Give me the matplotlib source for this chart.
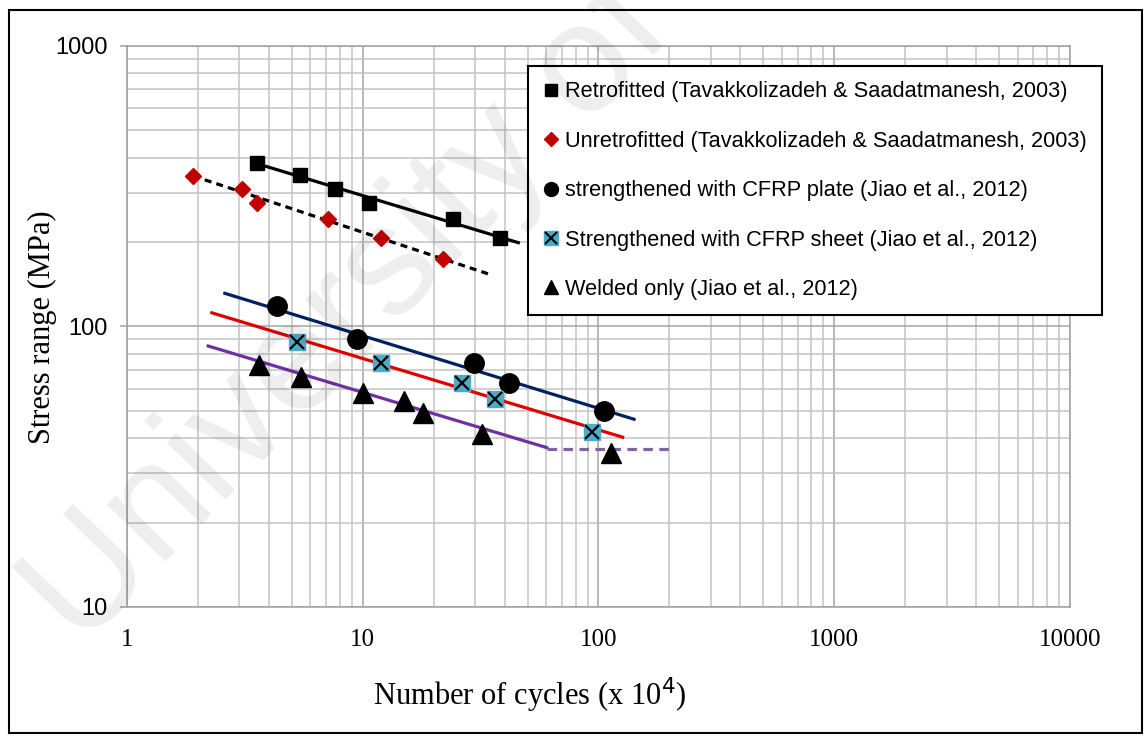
import numpy as np
import matplotlib.pyplot as plt
from matplotlib.lines import Line2D
from matplotlib.patches import Rectangle
from matplotlib.ticker import LogLocator, NullFormatter

# Data (x in 10^4 cycles, y in MPa)
retro_x = [3.55, 5.42, 7.63, 10.6, 24.2, 38.2]
retro_y = [382, 347, 309, 276, 241, 206]
unretro_x = [1.91, 3.07, 3.57, 7.14, 12.0, 22.0]
unretro_y = [344, 309, 275, 241, 207, 174]
plate_x = [4.31, 9.43, 29.7, 41.9, 105.5]
plate_y = [118, 90, 74, 63, 50]
sheet_x = [5.25, 12.0, 26.3, 36.4, 94.1]
sheet_y = [88, 74, 63, 55, 42]
welded_x = [3.63, 5.46, 10.06, 14.9, 18.1, 32.0, 112.6]
welded_y = [73, 66, 58, 54.4, 49.3, 41.4, 35.5]

# trend lines (end points)
retro_fit_x, retro_fit_y = [3.55, 45.7], [381, 199]
unretro_fit_x, unretro_fit_y = [1.91, 35.2], [344, 152.6]
plate_fit_x, plate_fit_y = [2.60, 141.5], [131.3, 46.7]
sheet_fit_x, sheet_fit_y = [2.29, 126.6], [111.9, 40.3]
welded_fit_x, welded_fit_y = [2.21, 60.3], [85.2, 37.0]
cutoff_x, cutoff_y = [60.3, 205], [36.5, 36.5]

labels = ['Retrofitted (Tavakkolizadeh & Saadatmanesh, 2003)',
          'Unretrofitted (Tavakkolizadeh & Saadatmanesh, 2003)',
          'strengthened with CFRP plate (Jiao et al., 2012)',
          'Strengthened with CFRP sheet (Jiao et al., 2012)',
          'Welded only (Jiao et al., 2012)']

red = '#C00000'
cyan = '#4BACC6'

fig = plt.figure(figsize=(11.44, 7.36), dpi=100)
ax = fig.add_axes([0.111, 0.1753, 0.8243, 0.7622])
ax.set_xscale('log')
ax.set_yscale('log')
ax.set_xlim(1, 10000)
ax.set_ylim(10, 1000)

# grid
ax.xaxis.set_minor_locator(LogLocator(base=10, subs=np.arange(2, 10)))
ax.yaxis.set_minor_locator(LogLocator(base=10, subs=np.arange(2, 10)))
ax.xaxis.set_minor_formatter(NullFormatter())
ax.yaxis.set_minor_formatter(NullFormatter())
ax.grid(which='major', color='#a6a6a6', lw=1.1)
ax.grid(which='minor', color='#c4c4c4', lw=1.1)
ax.set_axisbelow(True)
for s in ax.spines.values():
    s.set_color('#a0a0a0')
    s.set_linewidth(1.1)

ax.set_xticks([1, 10, 100, 1000, 10000])
ax.set_xticklabels(['1', '10', '100', '1000', '10000'], fontfamily='Liberation Serif', fontsize=18)
ax.set_yticks([10, 100, 1000])
ax.set_yticklabels(['10', '100', '1000'], fontfamily='Liberation Sans', fontsize=17)
ax.tick_params(axis='x', which='both', length=0, pad=16)
ax.tick_params(axis='y', which='major', length=5, width=1.1, color='#a0a0a0', pad=9)
ax.tick_params(axis='y', which='minor', length=0)

# trend lines
ax.plot(retro_fit_x, retro_fit_y, color='black', lw=2.3, zorder=2)
ax.plot(unretro_fit_x, unretro_fit_y, color='black', lw=2.3, ls=(0, (2.2, 1.6)), zorder=2)
ax.plot(plate_fit_x, plate_fit_y, color='#002060', lw=2.3, zorder=2)
ax.plot(sheet_fit_x, sheet_fit_y, color='#E00000', lw=2.3, zorder=2)
ax.plot(welded_fit_x, welded_fit_y, color='#7030A0', lw=2.3, zorder=2)
ax.plot(cutoff_x, cutoff_y, color='#8064A2', lw=2.3, ls=(0, (3, 2)), zorder=2)

# data points
ax.plot(retro_x, retro_y, 's', color='black', ms=9.5, ls='none', zorder=3)
ax.plot(unretro_x, unretro_y, 'D', color=red, ms=8, ls='none', zorder=3)
ax.plot(plate_x, plate_y, 'o', color='black', ms=14, ls='none', zorder=3)
ax.plot(sheet_x, sheet_y, 's', color=cyan, ms=12, ls='none', zorder=3)
ax.plot(sheet_x, sheet_y, 'x', color='black', ms=10, mew=1.6, ls='none', zorder=4)
ax.plot(welded_x, welded_y, '^', color='black', ms=14, ls='none', zorder=3)

# legend
h1 = Line2D([], [], marker='s', color='black', ls='none', ms=8)
h2 = Line2D([], [], marker='D', color=red, ls='none', ms=7)
h3 = Line2D([], [], marker='o', color='black', ls='none', ms=10)
h4a = Line2D([], [], marker='s', color=cyan, ls='none', ms=10)
h4b = Line2D([], [], marker='x', color='black', ls='none', ms=8, mew=1.5)
h5 = Line2D([], [], marker='^', color='black', ls='none', ms=10)
leg = ax.legend([h1, h2, h3, (h4a, h4b), h5], labels,
                loc='upper left', bbox_to_anchor=(0.425, 0.964),
                prop={'family': 'Liberation Sans', 'size': 15.7},
                frameon=True, fancybox=False, edgecolor='black',
                framealpha=1, labelspacing=1.3, handlelength=0.7,
                handletextpad=0.3, borderpad=0.7, borderaxespad=0)
leg.get_frame().set_linewidth(1.5)
leg.set_zorder(5)

# axis labels
fig.text(0.463, 0.042, r'Number of cycles (x 10$^{4}$)', ha='center', va='baseline',
         fontfamily='Liberation Serif', fontsize=22)
fig.text(0.037, 0.555, 'Stress range (MPa)', ha='center', va='center', rotation=90,
         fontfamily='Liberation Serif', fontsize=22)

# watermark
fig.text(0.0, 0.13, 'University of Malaya', rotation=46, fontsize=112,
         fontfamily='Liberation Sans', color='black', alpha=0.07,
         ha='left', va='baseline', zorder=10)

# outer border
fig.add_artist(Rectangle((0.008, 0.004), 0.99, 0.982, transform=fig.transFigure,
                         fill=False, ec='black', lw=1.5))

plt.savefig('out.png', dpi=100)
